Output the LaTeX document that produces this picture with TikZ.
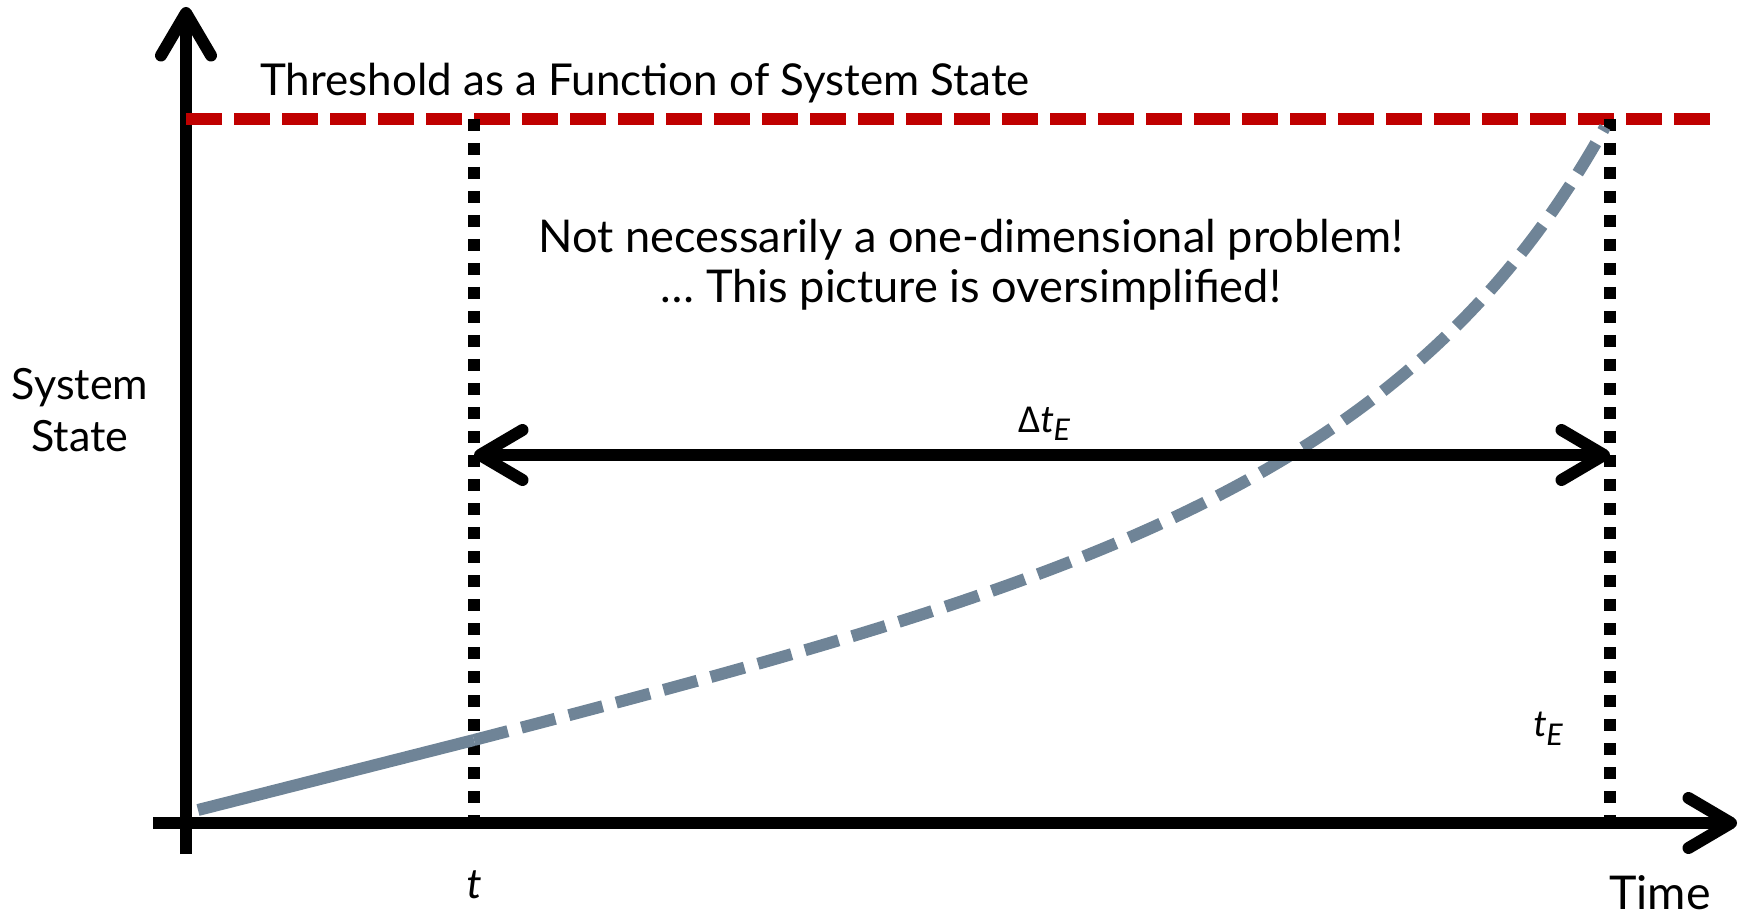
\documentclass[tikz,border=0pt]{standalone}
\usepackage{fontspec}
\setmainfont{Lato}
\newfontfamily\labfont{Carlito}
\usepackage{tikz}
\usetikzlibrary{arrows.meta, positioning}
\definecolor{threshred}{HTML}{C00000}
\definecolor{stategray}{HTML}{6F8497}

\begin{document}
\begin{tikzpicture}[
  axis/.style={line width=0.24cm, -{Straight Barb[round, length=0.85cm, width=1.0cm]}},
  span/.style={line width=0.24cm, {Straight Barb[round, length=0.85cm, width=1.0cm]}-{Straight Barb[round, length=0.85cm, width=1.0cm]}},
  threshold/.style={line width=0.24cm, threshred, dash pattern=on 0.72cm off 0.24cm},
  marker/.style={line width=0.24cm, dash pattern=on 0.24cm off 0.24cm},
  state/.style={line width=0.24cm, stategray},
  label/.style={inner sep=0pt, text=black},
]
  \useasboundingbox (0,0) rectangle (34.76,18.3);
  % axes
  \coordinate (ybot) at (3.72,1.22);
  \coordinate (ytop) at (3.72,18.16);
  \coordinate (xleft) at (3.06,1.84);
  \coordinate (xright) at (34.74,1.84);
  \draw[axis] (ybot) -- (ytop);
  \draw[axis] (xleft) -- (xright);
  % threshold
  \coordinate (thl) at (3.72,15.92);
  \coordinate (thr) at (34.2,15.92);
  \draw[threshold] (thl) -- (thr);
  % time markers
  \coordinate (ttop) at (9.48,15.92);
  \coordinate (tbot) at (9.48,1.84);
  \coordinate (tEtop) at (32.2,15.92);
  \coordinate (tEbot) at (32.2,1.84);
  \draw[marker] (ttop) -- (tbot);
  \draw[marker] (tEtop) -- (tEbot);
  % state trajectory
  \coordinate (s0) at (3.96,2.1);
  \coordinate (s1) at (9.48,3.5);
  \coordinate (s2) at (32.1,15.76);
  \draw[state] (s0) -- (s1);
  \draw[state, dash pattern=on 0.7cm off 0.28cm]
    (s1) .. controls (21.48,6.62) and (28.1,8.56) .. (s2);
  % time to event
  \coordinate (dl) at (9.48,9.2);
  \coordinate (dr) at (32.2,9.2);
  \draw[span] (dl) -- (dr);

  \node[label, anchor=base west, font=\fontsize{25pt}{30pt}\selectfont] (title) at (5.2,16.38)
    {Threshold as a Function of System State};
  \node[label, anchor=base, align=center, font=\fontsize{25.7pt}{28.45pt}\selectfont] (note) at (19.42,12.24)
    {Not necessarily a one-dimensional problem!\\\dots\ This picture is oversimplified!};
  \node[label, anchor=base, align=center, font=\fontsize{24.5pt}{29.6pt}\selectfont] (ylab) at (1.6,9.26)
    {System\\State};
  \node[label, anchor=base west, font=\fontsize{26.5pt}{30pt}\selectfont] (xlab) at (32.18,0.12) {Time};
  \node[label, anchor=base, font=\labfont\itshape\fontsize{22.5pt}{26pt}\selectfont] (dlab) at (20.88,9.64)
    {\upshape Δ\itshape t\raisebox{-0.16cm}{\fontsize{19pt}{22pt}\selectfont E}};
  \node[label, anchor=base, font=\labfont\itshape\fontsize{25pt}{30pt}\selectfont] (tlab) at (9.48,0.34) {t};
  \node[label, anchor=base west, font=\labfont\itshape\fontsize{22pt}{26pt}\selectfont] (tElab) at (30.66,3.56)
    {t\raisebox{-0.16cm}{\fontsize{19pt}{22pt}\selectfont E}};
\end{tikzpicture}
\end{document}
